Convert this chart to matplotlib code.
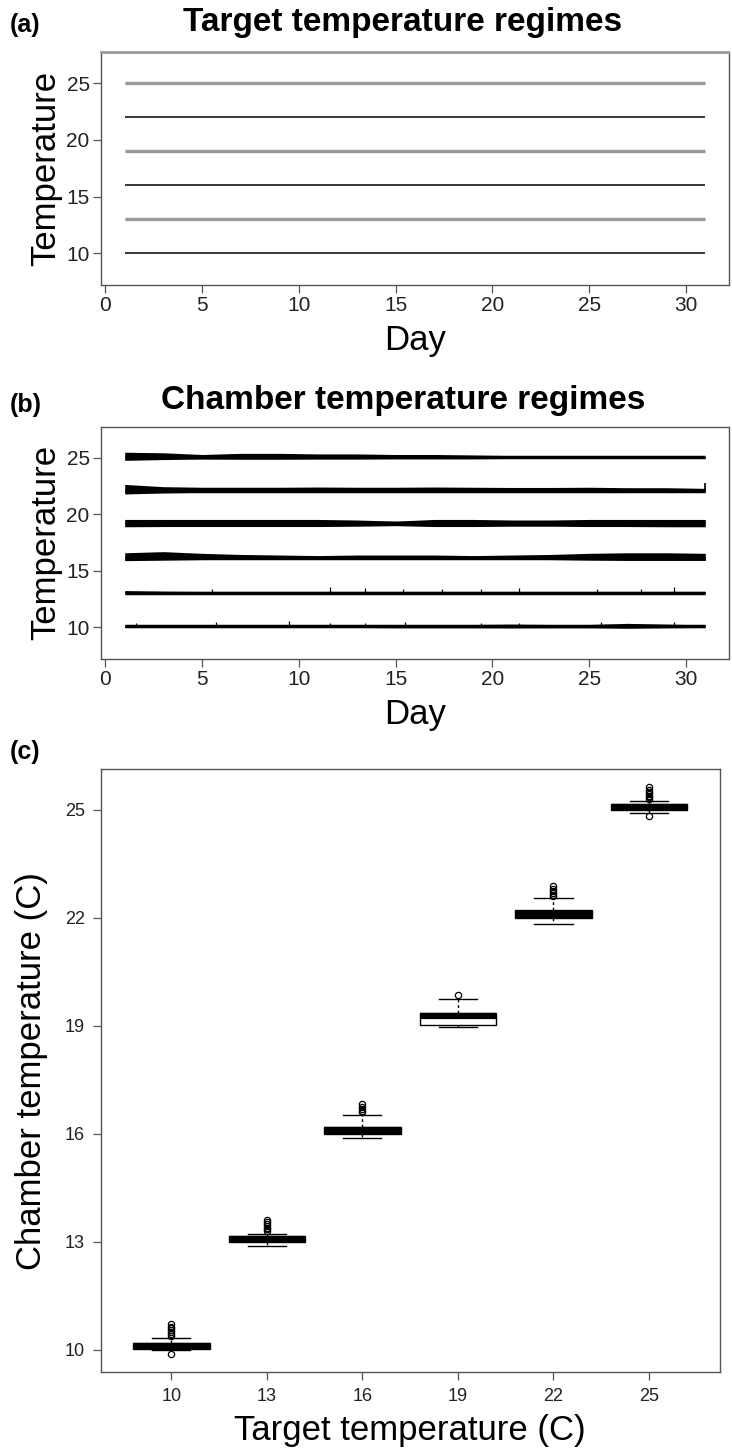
import numpy as np
import matplotlib
matplotlib.use('Agg')
import matplotlib.pyplot as plt

plt.rcParams['font.family'] = ['Liberation Sans', 'DejaVu Sans']

W, H = 732, 1448

# --- (a) target regimes
target_days = [1, 31]
target_levels = [25, 22, 19, 16, 13, 10]
target_colors = ['#999999', 'black', '#999999', 'black', '#999999', 'black']
target_widths = [2.4, 1.1, 2.4, 1.1, 2.4, 1.1]

# --- (b) chamber regimes, envelope read every 2 days (day 1..31)
band_days = [1, 3, 5, 7, 9, 11, 13, 15, 17, 19, 21, 23, 25, 27, 29, 31]
band_mid = [25.05, 22.1, 19.2, 16.15, 13.08, 10.1]
band_hi = [
    [25.50, 25.45, 25.30, 25.40, 25.40, 25.35, 25.35, 25.30, 25.30, 25.25, 25.20, 25.18, 25.18, 25.20, 25.18, 25.12],
    [22.65, 22.45, 22.40, 22.40, 22.40, 22.42, 22.40, 22.40, 22.42, 22.40, 22.38, 22.38, 22.40, 22.36, 22.36, 22.30],
    [19.55, 19.55, 19.55, 19.55, 19.55, 19.55, 19.50, 19.40, 19.55, 19.55, 19.50, 19.50, 19.55, 19.55, 19.55, 19.55],
    [16.60, 16.70, 16.55, 16.45, 16.40, 16.35, 16.40, 16.40, 16.40, 16.35, 16.40, 16.45, 16.55, 16.60, 16.60, 16.55],
    [13.25, 13.20, 13.18, 13.18, 13.18, 13.18, 13.18, 13.18, 13.18, 13.18, 13.18, 13.18, 13.18, 13.18, 13.18, 13.18],
    [10.22, 10.22, 10.22, 10.22, 10.22, 10.22, 10.22, 10.25, 10.25, 10.25, 10.28, 10.25, 10.25, 10.35, 10.28, 10.22],
]
band_lo = [
    [24.78, 24.85, 24.90, 24.88, 24.88, 24.90, 24.90, 24.92, 24.92, 24.92, 24.95, 24.95, 24.95, 24.95, 24.95, 24.96],
    [21.80, 21.90, 21.95, 21.95, 21.95, 21.95, 21.95, 21.95, 21.95, 21.95, 21.97, 21.97, 21.97, 21.97, 21.97, 21.95],
    [18.90, 18.92, 18.92, 18.92, 18.92, 18.92, 18.95, 19.00, 18.92, 18.92, 18.95, 18.95, 18.92, 18.92, 18.90, 18.90],
    [15.90, 15.95, 16.00, 16.02, 16.02, 16.05, 16.02, 16.02, 16.02, 16.05, 16.02, 16.00, 15.95, 15.92, 15.92, 15.92],
    [12.95, 12.98, 12.98, 12.98, 12.98, 12.98, 12.98, 12.98, 12.98, 12.98, 12.98, 12.98, 12.98, 12.98, 12.98, 12.98],
    [9.98, 9.98, 9.98, 9.98, 9.98, 9.98, 9.98, 9.96, 9.96, 9.96, 9.95, 9.96, 9.96, 9.92, 9.96, 9.98],
]
spike13_days = [5.5, 11.6, 13.4, 15.4, 17.4, 19.4, 21.4, 25.4, 27.7, 29.4]
spike13_vals = [13.4, 13.55, 13.5, 13.4, 13.4, 13.4, 13.45, 13.4, 13.4, 13.55]
spike10_days = [1.6, 5.7, 9.5, 11.6, 13.4, 15.5, 19.4, 21.4, 25.6, 29.4]
spike10_vals = [10.4, 10.5, 10.55, 10.4, 10.4, 10.45, 10.4, 10.4, 10.45, 10.45]
spike22_days = [31.0]
spike22_vals = [22.75]

# --- (c) boxplots of chamber vs target temperature
box_labels = ['10', '13', '16', '19', '22', '25']
box_q1 = [10.04, 13.01, 16.01, 19.03, 22.00, 25.00]
box_med = [10.12, 13.08, 16.10, 19.28, 22.10, 25.08]
box_q3 = [10.20, 13.16, 16.20, 19.36, 22.22, 25.16]
box_lo = [10.00, 12.88, 15.90, 18.97, 21.84, 24.92]
box_hi = [10.32, 13.22, 16.52, 19.76, 22.55, 25.25]
box_out = [
    [10.40, 10.45, 10.50, 10.55, 10.60, 10.65, 10.72, 9.88],
    [13.30, 13.35, 13.40, 13.45, 13.50, 13.55, 13.62],
    [16.60, 16.65, 16.70, 16.75, 16.82],
    [19.86],
    [22.60, 22.65, 22.70, 22.75, 22.80, 22.90],
    [25.30, 25.35, 25.40, 25.45, 25.50, 25.55, 25.64, 24.82],
]
box_fill = ['black', 'black', 'black', 'white', 'black', 'black']

fig = plt.figure(figsize=(W / 100, H / 100), dpi=100)


def px_axes(l, t, r, b):
    return fig.add_axes([l / W, 1 - b / H, (r - l) / W, (b - t) / H])


def style_axes(ax, size, pad):
    for s in ax.spines.values():
        s.set_color('#555555')
        s.set_linewidth(1.0)
    ax.tick_params(direction='out', length=5.5, width=0.9, color='#555555',
                   labelsize=size, labelcolor='#222222', pad=pad)


# (a)
ax1 = px_axes(101.5, 52, 728.5, 284.5)
for lev, c, lw in zip(target_levels, target_colors, target_widths):
    ax1.plot(target_days, [lev, lev], color=c, lw=lw, solid_capstyle='butt')
ax1.set_xlim(-0.2, 32.2)
ax1.set_ylim(7.24, 27.76)
ax1.set_xticks(range(0, 31, 5))
ax1.set_yticks(range(10, 26, 5))
style_axes(ax1, 15, 3)
ax1.spines['top'].set_color('#999999')
ax1.spines['top'].set_linewidth(2)
ax1.set_xlabel('Day', fontsize=25, labelpad=6)
ax1.set_ylabel('Temperature', fontsize=25, labelpad=3)
fig.text(403 / W, 1 - 23 / H, 'Target temperature regimes', fontsize=24,
         fontweight='bold', ha='center', va='center')
fig.text(10 / W, 1 - 25 / H, '(a)', fontsize=18, fontweight='bold', va='center')

# (b)
ax2 = px_axes(101.5, 426.7, 728.5, 658.5)
for mid, hi, lo in zip(band_mid, band_hi, band_lo):
    ax2.fill_between(band_days, lo, hi, color='black', lw=0)
    ax2.plot([band_days[0], band_days[-1]], [mid, mid], color='black', lw=2.5,
             solid_capstyle='butt')
ax2.vlines(spike13_days, band_mid[4], spike13_vals, color='black', lw=0.9)
ax2.vlines(spike10_days, band_mid[5], spike10_vals, color='black', lw=0.9)
ax2.vlines(spike22_days, band_mid[1], spike22_vals, color='black', lw=1.2)
ax2.set_xlim(-0.2, 32.2)
ax2.set_ylim(7.24, 27.76)
ax2.set_xticks(range(0, 31, 5))
ax2.set_yticks(range(10, 26, 5))
style_axes(ax2, 15, 3)
ax2.set_xlabel('Day', fontsize=25, labelpad=6)
ax2.set_ylabel('Temperature', fontsize=25, labelpad=3)
fig.text(403 / W, 1 - 401 / H, 'Chamber temperature regimes', fontsize=24,
         fontweight='bold', ha='center', va='center')
fig.text(10 / W, 1 - 405 / H, '(b)', fontsize=18, fontweight='bold', va='center')

# (c)
ax3 = px_axes(100.6, 769.3, 719.7, 1372.3)
stats = []
for i in range(len(box_labels)):
    stats.append(dict(q1=box_q1[i], med=box_med[i], q3=box_q3[i],
                      whislo=box_lo[i], whishi=box_hi[i], fliers=box_out[i]))
bp = ax3.bxp(stats, positions=range(1, 7), widths=0.8, patch_artist=True,
             boxprops=dict(facecolor='white', edgecolor='black', lw=1.0),
             medianprops=dict(color='black', lw=4.5, solid_capstyle='butt'),
             whiskerprops=dict(color='black', lw=1.0, linestyle=(0, (2, 2))),
             capprops=dict(color='black', lw=1.0), capwidths=0.4,
             flierprops=dict(marker='o', markersize=4.5, markerfacecolor='none',
                             markeredgecolor='black', markeredgewidth=0.9))
for patch, fc in zip(bp['boxes'], box_fill):
    patch.set_facecolor(fc)
ax3.set_xlim(0.26, 6.74)
ax3.set_ylim(9.38, 26.13)
ax3.set_xticks(range(1, 7))
ax3.set_xticklabels(box_labels)
ax3.set_yticks([10, 13, 16, 19, 22, 25])
style_axes(ax3, 13, 6)
ax3.set_xlabel('Target temperature (C)', fontsize=25, labelpad=6)
ax3.set_ylabel('Chamber temperature (C)', fontsize=25, labelpad=12)
fig.text(10 / W, 1 - 752 / H, '(c)', fontsize=18, fontweight='bold', va='center')

fig.savefig('out.png', dpi=100)
